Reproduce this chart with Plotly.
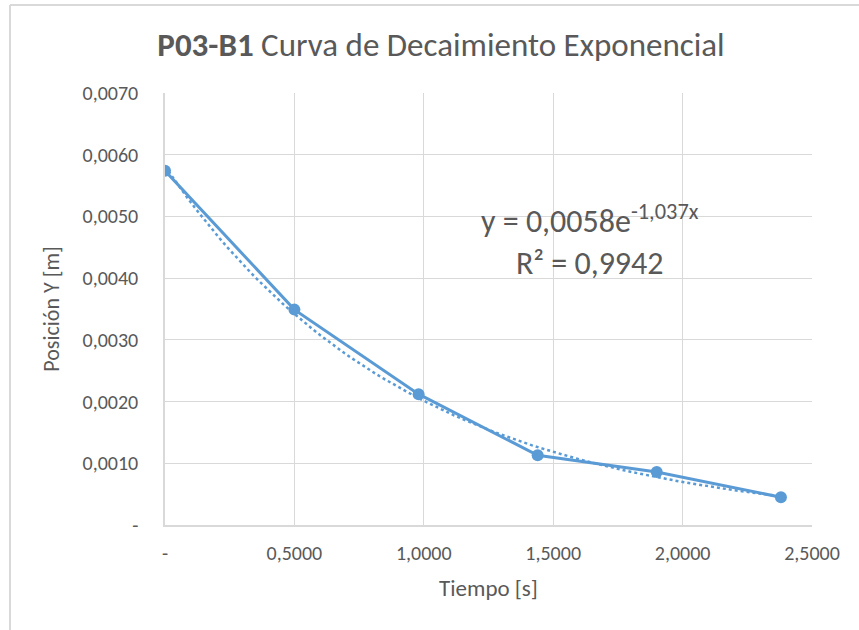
import numpy as np
import plotly.graph_objects as go

# ---- data ----
tiempo = [0.0, 0.50, 0.98, 1.44, 1.90, 2.38]
posicion = [0.00574, 0.00349, 0.00212, 0.00113, 0.00086, 0.00045]

x_tickvals = [0.0, 0.5, 1.0, 1.5, 2.0, 2.5]
x_ticktext = ["-", "0,5000", "1,0000", "1,5000", "2,0000", "2,5000"]
y_tickvals = [0.0, 0.001, 0.002, 0.003, 0.004, 0.005, 0.006, 0.007]
y_ticktext = ["-", "0,0010", "0,0020", "0,0030", "0,0040", "0,0050", "0,0060", "0,0070"]

titulo = "<b>P03-B1</b> Curva de Decaimiento Exponencial"
eje_x = "Tiempo [s]"
eje_y = "Posición Y [m]"
ecuacion = "y = 0,0058e<sup>-1,037x</sup><br>R² = 0,9942"

# exponential trendline (least squares on log, as the spreadsheet does)
b, ln_a = np.polyfit(np.array(tiempo), np.log(np.array(posicion)), 1)
xt = np.linspace(min(tiempo), max(tiempo), 80)
yt = np.exp(ln_a) * np.exp(b * xt)

BLUE = "#5B9BD5"
GRID = "#D9D9D9"
TXT = "#595959"
FONT = "Carlito, Calibri, Lato, sans-serif"

fig = go.Figure()
fig.add_trace(go.Scatter(x=xt, y=yt, mode="lines",
                         line=dict(color=BLUE, width=2.5, dash="dot"),
                         hoverinfo="skip", showlegend=False))
fig.add_trace(go.Scatter(x=tiempo, y=posicion, mode="lines+markers",
                         line=dict(color=BLUE, width=3),
                         marker=dict(color=BLUE, size=12),
                         showlegend=False))

W, H = 859, 630
L, R, T, B = 165, 812, 93, 525

def px(x):
    return (x - L) / (R - L)

def py(y):
    return (B - y) / (B - T)

fig.update_layout(
    width=W, height=H,
    margin=dict(l=L, r=W - R, t=T, b=H - B, autoexpand=False),
    paper_bgcolor="white", plot_bgcolor="white",
    font=dict(family=FONT, color=TXT),
    title=dict(text=titulo, x=px(441), xref="paper", xanchor="center",
               y=1 - 44 / H, yref="container", yanchor="middle",
               font=dict(size=33, color=TXT, family=FONT)),
    xaxis=dict(range=[0, 2.5], tickvals=x_tickvals, ticktext=x_ticktext,
               showgrid=True, gridcolor=GRID, gridwidth=1,
               showline=True, linecolor=GRID, linewidth=1.5,
               zeroline=False, ticks="", ticklabelstandoff=9,
               tickfont=dict(size=20, color=TXT),
               title=dict(text=eje_x, font=dict(size=23, color=TXT), standoff=16)),
    yaxis=dict(range=[0, 0.007], tickvals=y_tickvals, ticktext=y_ticktext,
               showgrid=True, gridcolor=GRID, gridwidth=1,
               showline=True, linecolor=GRID, linewidth=1.5,
               zeroline=False, ticks="", ticklabelstandoff=21,
               tickfont=dict(size=20, color=TXT),
               title=dict(text=eje_y, font=dict(size=22, color=TXT), standoff=17)),
    annotations=[dict(text=ecuacion, x=px(590), y=py(240), xref="paper", yref="paper",
                      xanchor="center", yanchor="middle", showarrow=False,
                      align="center", font=dict(size=32, color=TXT, family=FONT))],
    shapes=[
        dict(type="line", xref="paper", yref="paper", x0=px(10), x1=px(859),
             y0=py(5), y1=py(5), line=dict(color=GRID, width=2)),
        dict(type="line", xref="paper", yref="paper", x0=px(10), x1=px(10),
             y0=py(5), y1=py(630), line=dict(color=GRID, width=2)),
    ],
)

fig.write_html("out.html", config={"displayModeBar": False},
               post_script="document.body.style.margin='0';")
